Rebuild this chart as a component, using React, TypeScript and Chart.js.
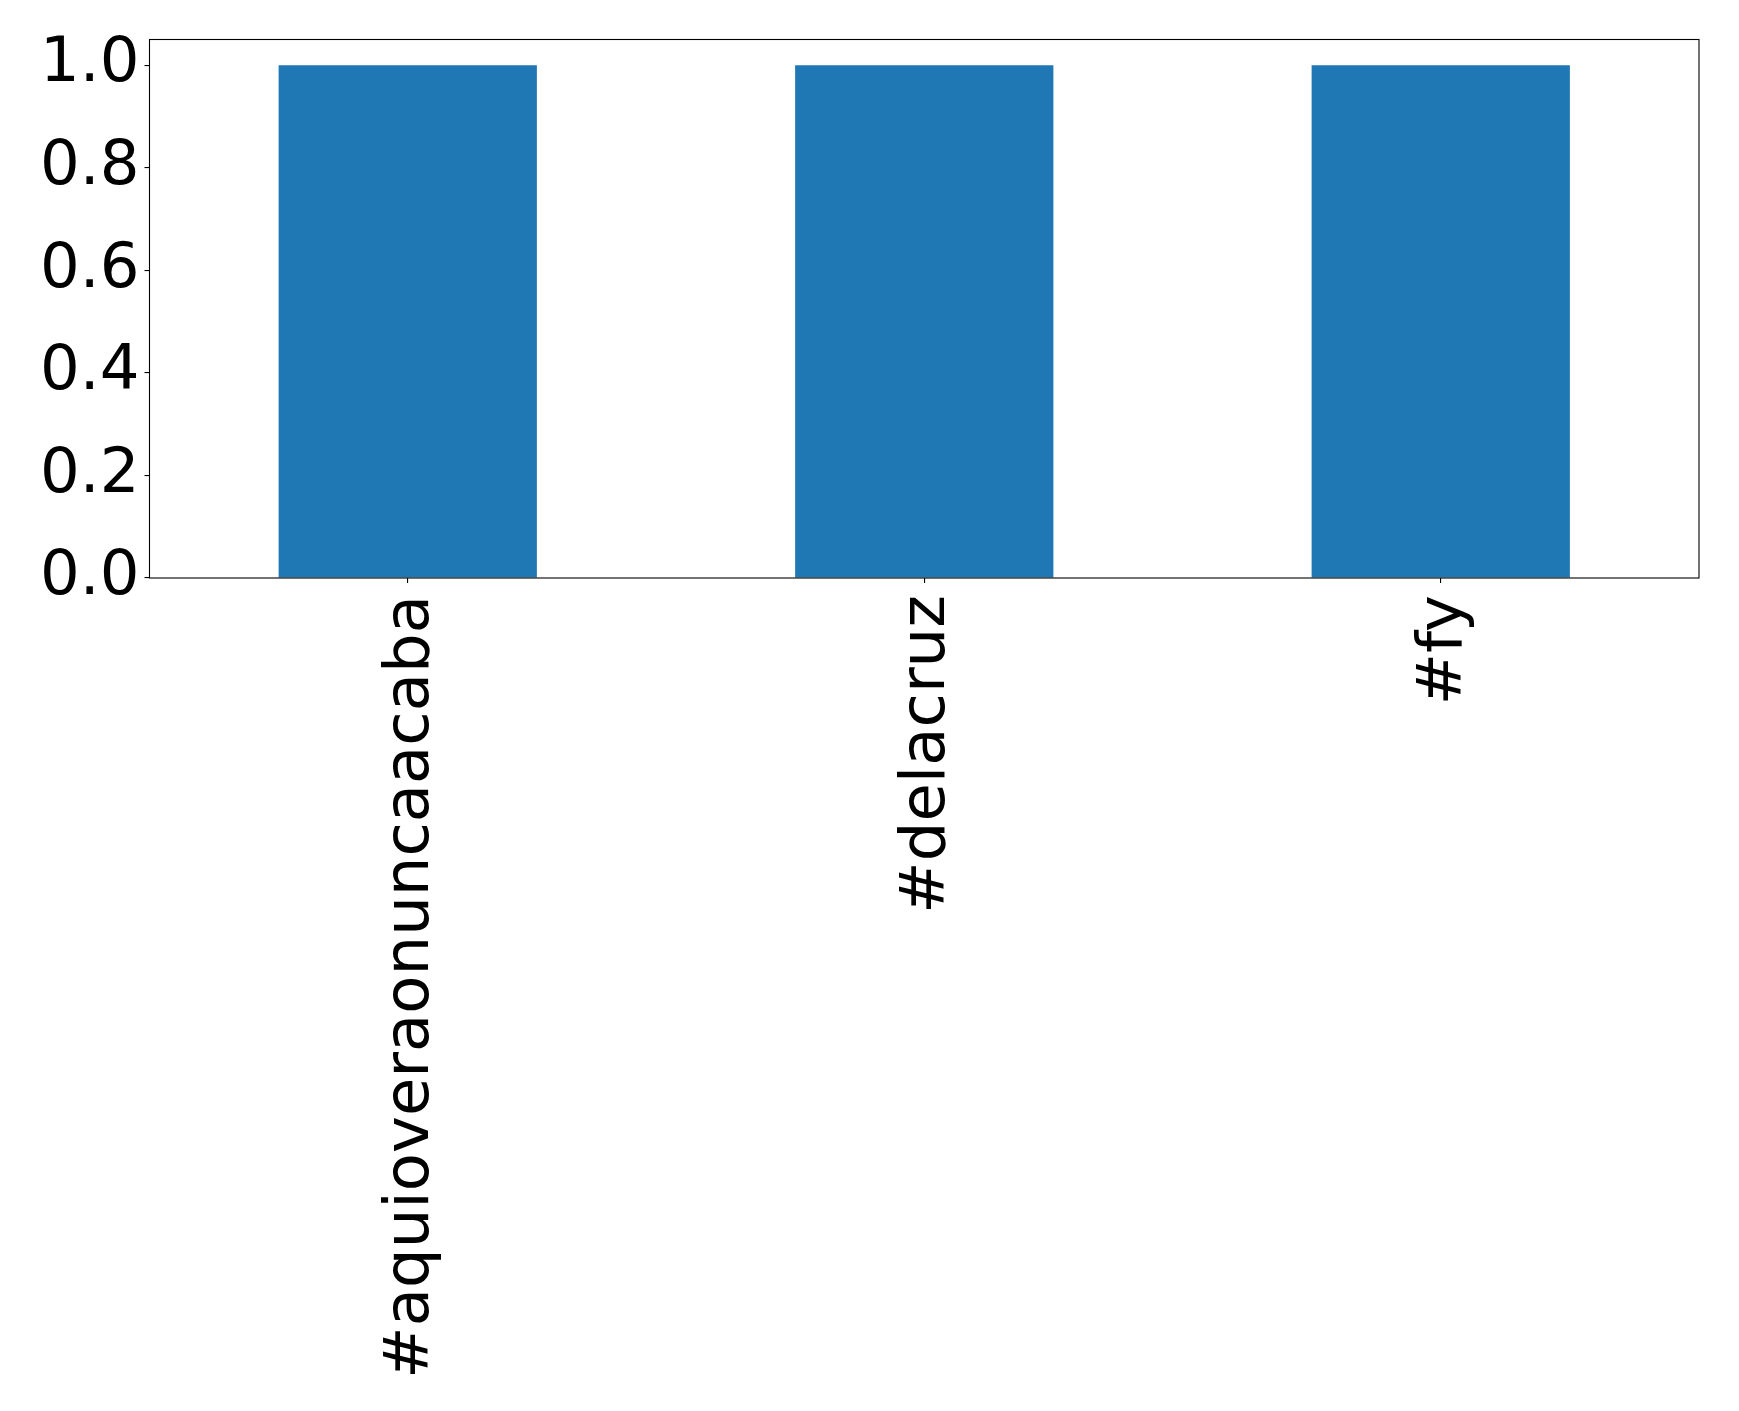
import React, { useEffect, useRef } from "react";
import { Chart, registerables } from "chart.js";

Chart.register(...registerables);

const categories = ["#aquioveraonuncaacaba", "#delacruz", "#fy"];
const values = [1, 1, 1];
const yTicks = [0, 0.2, 0.4, 0.6, 0.8, 1.0];

const FONT = "'DejaVu Sans', sans-serif";

const frame = {
  id: "frame",
  afterDraw(chart: any) {
    const { ctx, chartArea } = chart;
    ctx.save();
    ctx.strokeStyle = "#000";
    ctx.lineWidth = 1.1;
    ctx.strokeRect(chartArea.left, chartArea.top, chartArea.right - chartArea.left, chartArea.bottom - chartArea.top);
    ctx.restore();
  },
};

export default function App() {
  const ref = useRef<HTMLCanvasElement | null>(null);
  useEffect(() => {
    document.body.style.margin = "0";
    const chart = new Chart(ref.current!, {
      type: "bar",
      data: {
        labels: categories,
        datasets: [
          {
            data: values,
            backgroundColor: "#1f77b4",
            borderWidth: 0,
            barPercentage: 0.5,
            categoryPercentage: 1,
          },
        ],
      },
      options: {
        animation: false,
        responsive: false,
        maintainAspectRatio: false,
        layout: { padding: { top: 39.5, right: 40, left: 0, bottom: 0 } },
        plugins: { legend: { display: false }, tooltip: { enabled: false } },
        scales: {
          x: {
            grid: { display: true, offset: false, drawOnChartArea: false, drawTicks: true, tickLength: 5, color: "#000", lineWidth: 1.1 },
            border: { display: false },
            ticks: {
              color: "#000",
              font: { family: FONT, size: 62.5 },
              minRotation: 90,
              maxRotation: 90,
              autoSkip: false,
              padding: 12,
              labelOffset: 4,
            },
            afterFit(scale: any) {
              scale.height = 1411 - 578;
              scale.paddingLeft = 0;
              scale.paddingRight = 0;
            },
          },
          y: {
            min: 0,
            max: 1.05,
            grid: { display: true, drawOnChartArea: false, drawTicks: true, tickLength: 5, color: "#000", lineWidth: 1.1 },
            border: { display: false },
            ticks: {
              color: "#000",
              font: { family: FONT, size: 62.5 },
              stepSize: 0.2,
              includeBounds: false,
              padding: 5,
              callback: (v: any) => Number(v).toFixed(1),
            },
            afterBuildTicks(scale: any) {
              scale.ticks = yTicks.map((v) => ({ value: v }));
            },
            afterFit(scale: any) {
              scale.width = 149.5;
              scale.paddingTop = 0;
              scale.paddingBottom = 0;
            },
          },
        },
      },
      plugins: [frame],
    });
    return () => chart.destroy();
  }, []);
  return (
    <div style={{ width: 1739, height: 1411, background: "#fff" }}>
      <canvas ref={ref} width={1739} height={1411} style={{ display: "block" }} />
    </div>
  );
}
